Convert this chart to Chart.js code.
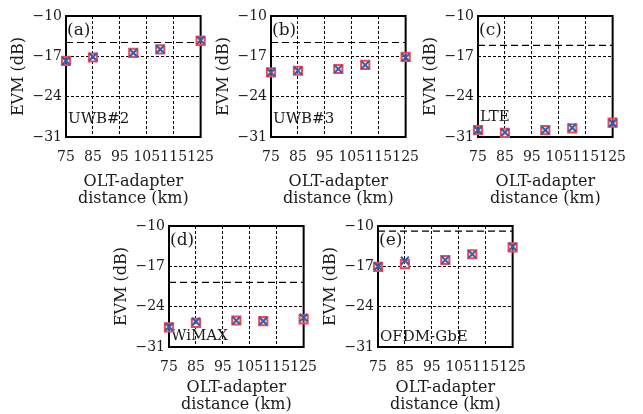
<!DOCTYPE html>
<html>
<head>
<meta charset="utf-8">
<script src="https://cdn.jsdelivr.net/npm/chart.js@4/dist/chart.umd.min.js"></script>
<style>
  body { margin: 0; background: #fff; }
  #wrap { position: relative; width: 643px; height: 414px; overflow: hidden; }
  #wrap canvas { position: absolute; }
</style>
</head>
<body>
<div id="wrap"></div>
<script>
// Data
const DISTANCE = [75, 85, 100, 110, 125]; // km
const X_TICKS = [75, 85, 95, 105, 115, 125];
const Y_TICKS = [-31, -24, -17, -10];

const UWB2_SQUARE = [-17.8, -17.2, -16.4, -15.8, -14.3];
const UWB2_CROSS = [-17.8, -17.1, -16.4, -15.8, -14.2];
const UWB3_SQUARE = [-19.8, -19.5, -19.2, -18.5, -17.1];
const UWB3_CROSS = [-19.8, -19.5, -19.2, -18.5, -17.2];
const LTE_SQUARE = [-29.8, -30.3, -29.8, -29.5, -28.5];
const LTE_CROSS = [-29.8, -30.2, -29.8, -29.4, -28.6];
const WIMAX_SQUARE = [-27.6, -26.8, -26.4, -26.5, -26.2];
const WIMAX_CROSS = [-27.5, -26.6, -26.4, -26.5, -25.9];
const GBE_SQUARE = [-17.1, -16.6, -15.9, -14.9, -13.7];
const GBE_CROSS = [-17.0, -16.0, -15.9, -14.9, -13.6];

const THRESHOLDS = { a: -14.6, b: -14.6, c: -15.1, d: -19.8, e: -10.9 };

const PANELS = [
    { id: 'a', name: 'UWB#2', square: UWB2_SQUARE, cross: UWB2_CROSS, left: 0, top: 0, nameY: 103, axisH: 72 },
    { id: 'b', name: 'UWB#3', square: UWB3_SQUARE, cross: UWB3_CROSS, left: 205, top: 0, nameY: 103, axisH: 72 },
    { id: 'c', name: 'LTE', square: LTE_SQUARE, cross: LTE_CROSS, left: 412, top: 0, nameY: 101, axisH: 72 },
    { id: 'd', name: 'WiMAX', square: WIMAX_SQUARE, cross: WIMAX_CROSS, left: 103, top: 210, nameY: 110, axisH: 68 },
    { id: 'e', name: 'OFDM-GbE', square: GBE_SQUARE, cross: GBE_CROSS, left: 312, top: 210, nameY: 111, axisH: 68 }
];

const FONT = "'DejaVu Serif', 'Liberation Serif', serif";
const CANVAS_W = 226;
const PLOT_TOP = 16;
const PLOT_H = 121;

// Frame around the plot area and the panel texts
const panelText = {
    id: 'panelText',
    beforeDatasetsDraw(chart, args, opts) {
        const a = chart.chartArea;
        const ctx = chart.ctx;
        ctx.save();
        ctx.strokeStyle = '#000';
        ctx.lineWidth = 2;
        ctx.strokeRect(a.left, a.top, a.right - a.left, a.bottom - a.top);
        ctx.fillStyle = '#1a1a1a';
        ctx.textBaseline = 'middle';
        ctx.textAlign = 'left';
        ctx.font = `17px ${FONT}`;
        ctx.fillText(`(${opts.tag})`, a.left + 1, a.top + 15);
        ctx.font = `15px ${FONT}`;
        ctx.fillText(opts.name, a.left + 2, a.top + opts.nameY);
        ctx.restore();
    }
};

function pts(values) {
    return DISTANCE.map((d, i) => ({ x: d, y: values[i] }));
}

function createPanel(p) {
    const canvas = document.createElement('canvas');
    canvas.width = CANVAS_W;
    canvas.height = PLOT_TOP + PLOT_H + p.axisH;
    canvas.style.left = p.left + 'px';
    canvas.style.top = p.top + 'px';
    document.getElementById('wrap').appendChild(canvas);

    const thr = THRESHOLDS[p.id];
    new Chart(canvas.getContext('2d'), {
        type: 'scatter',
        data: {
            datasets: [
                {
                    type: 'line',
                    data: [{ x: X_TICKS[0], y: thr }, { x: X_TICKS[X_TICKS.length - 1], y: thr }],
                    borderColor: '#000',
                    borderWidth: 1.2,
                    borderDash: [7, 4],
                    pointRadius: 0,
                    order: 3
                },
                {
                    data: pts(p.square),
                    pointStyle: 'rect',
                    pointRadius: 5.8,
                    borderColor: '#ee4b58',
                    backgroundColor: 'rgba(250, 170, 180, 0.35)',
                    borderWidth: 2,
                    order: 2
                },
                {
                    data: pts(p.cross),
                    pointStyle: 'crossRot',
                    pointRadius: 5.5,
                    borderColor: '#2e5fb0',
                    borderWidth: 2,
                    order: 1
                }
            ]
        },
        options: {
            responsive: false,
            animation: false,
            clip: false,
            layout: { padding: { top: PLOT_TOP, right: 16, left: 0, bottom: 0 } },
            scales: {
                x: {
                    type: 'linear',
                    min: 75,
                    max: 125,
                    afterFit: s => { s.height = p.axisH; },
                    afterBuildTicks: s => { s.ticks = X_TICKS.map(v => ({ value: v })); },
                    ticks: {
                        autoSkip: false,
                        maxRotation: 0,
                        padding: 12,
                        color: '#1a1a1a',
                        font: { family: FONT, size: 14 }
                    },
                    grid: { color: '#000', lineWidth: 1, drawTicks: false },
                    border: { display: false, dash: [3, 2] },
                    title: {
                        display: true,
                        text: ['OLT-adapter', 'distance (km)'],
                        color: '#1a1a1a',
                        font: { family: FONT, size: 16, lineHeight: 1.07 },
                        padding: { top: 0, bottom: 1.5 }
                    }
                },
                y: {
                    min: -31,
                    max: -10,
                    afterFit: s => { s.width = 66; },
                    afterBuildTicks: s => { s.ticks = Y_TICKS.map(v => ({ value: v })); },
                    ticks: {
                        padding: 4,
                        color: '#1a1a1a',
                        font: { family: FONT, size: 14 },
                        callback: v => '\u2212' + Math.abs(v)
                    },
                    grid: { color: '#000', lineWidth: 1, drawTicks: false },
                    border: { display: false, dash: [3, 2] },
                    title: {
                        display: true,
                        text: 'EVM (dB)',
                        color: '#1a1a1a',
                        font: { family: FONT, size: 16, lineHeight: 1.07 },
                        padding: { top: 10, bottom: 0 }
                    }
                }
            },
            plugins: {
                legend: { display: false },
                tooltip: { enabled: false },
                panelText: { tag: p.id, name: p.name, nameY: p.nameY }
            }
        },
        plugins: [panelText]
    });
}

PANELS.forEach(createPanel);
</script>
</body>
</html>
